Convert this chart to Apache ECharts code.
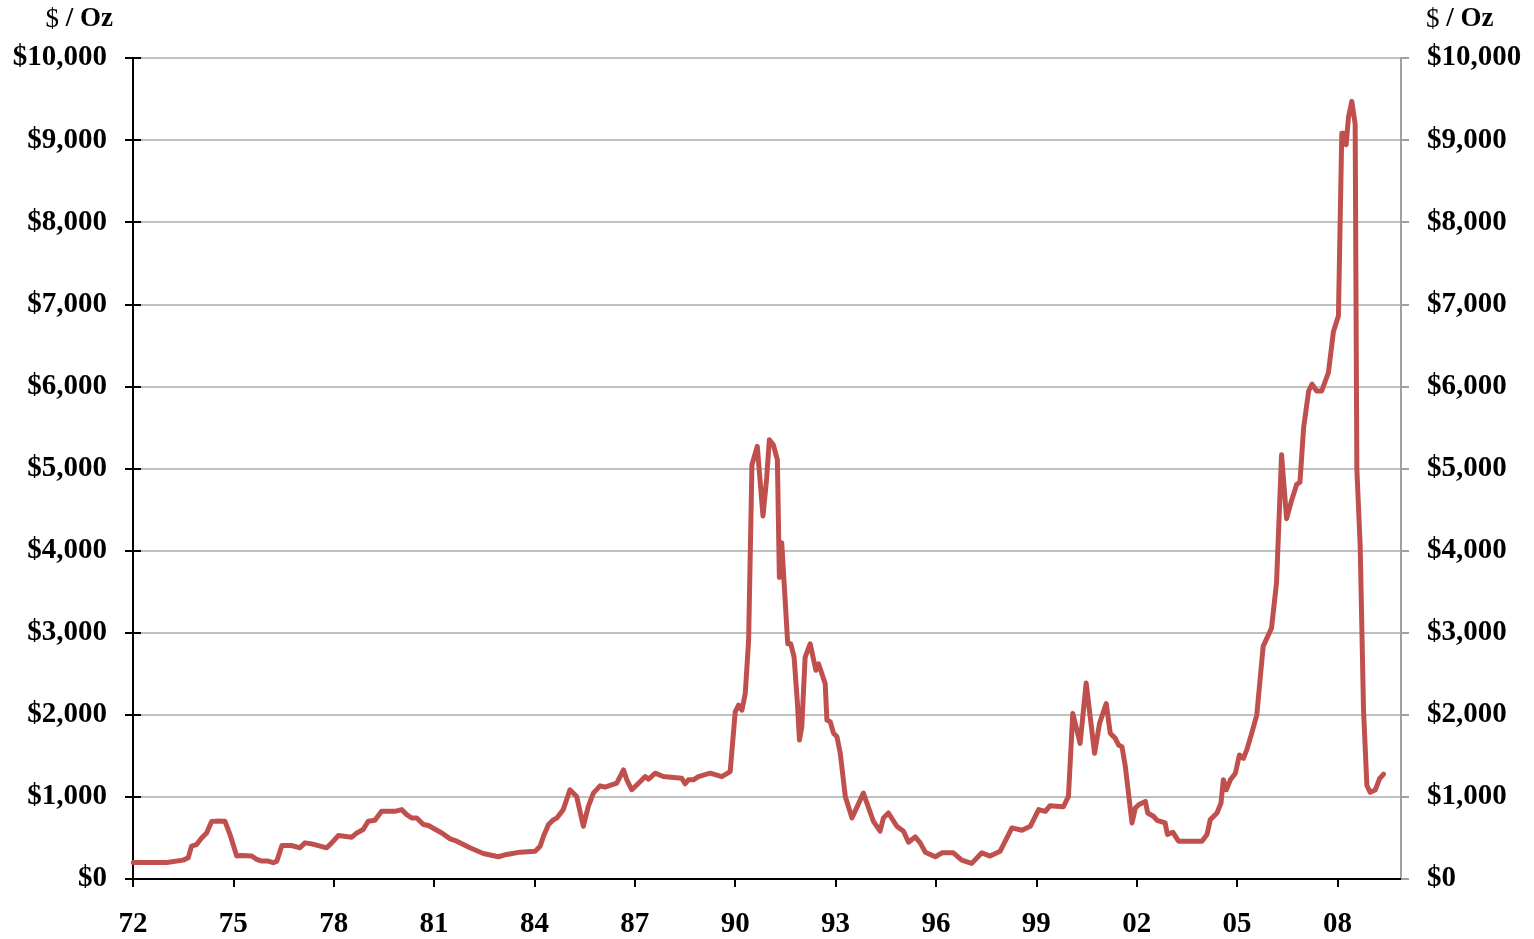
<!DOCTYPE html>
<html lang="en">
<head>
    <meta charset="UTF-8">
    <title>$ / Oz</title>
    <script src="https://cdn.jsdelivr.net/npm/echarts@6/dist/echarts.min.js"></script>
    <style>
        body { margin: 0; background: #fff; }
    </style>
</head>
<body>
    <div style="width: 1534px; height: 939px" id="main"></div>
    <script type="text/javascript">
        // decimal year of each reading
        var years = [
            1972.01, 1973.01, 1973.50, 1973.65, 1973.75, 1973.90, 1974.05, 1974.20, 1974.35, 1974.50,
            1974.75, 1974.90, 1975.10, 1975.25, 1975.55, 1975.70, 1975.85, 1976.04, 1976.19, 1976.30,
            1976.45, 1976.74, 1976.99, 1977.14, 1977.34, 1977.79, 1977.94, 1978.14, 1978.54, 1978.69,
            1978.88, 1979.03, 1979.23, 1979.43, 1979.83, 1980.03, 1980.18, 1980.33, 1980.48, 1980.68,
            1980.83, 1981.23, 1981.48, 1981.68, 1982.07, 1982.47, 1982.92, 1983.17, 1983.57, 1984.02,
            1984.17, 1984.27, 1984.42, 1984.57, 1984.67, 1984.86, 1985.06, 1985.26, 1985.46, 1985.61,
            1985.76, 1985.96, 1986.11, 1986.46, 1986.66, 1986.76, 1986.91, 1987.11, 1987.31, 1987.41,
            1987.61, 1987.85, 1988.40, 1988.50, 1988.60, 1988.75, 1988.90, 1989.25, 1989.60, 1989.85,
            1990.00, 1990.10, 1990.20, 1990.30, 1990.40, 1990.50, 1990.54, 1990.66, 1990.83, 1990.94,
            1991.02, 1991.14, 1991.26, 1991.32, 1991.39, 1991.44, 1991.57, 1991.66, 1991.76, 1991.86,
            1991.92, 1991.99, 1992.09, 1992.24, 1992.41, 1992.49, 1992.69, 1992.74, 1992.84, 1992.94,
            1993.04, 1993.14, 1993.29, 1993.49, 1993.83, 1994.13, 1994.33, 1994.43, 1994.58, 1994.83,
            1995.03, 1995.18, 1995.38, 1995.53, 1995.68, 1995.98, 1996.18, 1996.52, 1996.77, 1997.07,
            1997.37, 1997.62, 1997.92, 1998.27, 1998.57, 1998.82, 1999.07, 1999.27, 1999.41, 1999.81,
            1999.96, 2000.09, 2000.31, 2000.49, 2000.74, 2000.89, 2001.09, 2001.21, 2001.36, 2001.46,
            2001.56, 2001.66, 2001.86, 2001.96, 2002.06, 2002.26, 2002.33, 2002.50, 2002.61, 2002.85,
            2002.92, 2003.08, 2003.25, 2003.95, 2004.10, 2004.20, 2004.40, 2004.52, 2004.59, 2004.68,
            2004.80, 2004.95, 2005.07, 2005.19, 2005.29, 2005.44, 2005.59, 2005.78, 2006.03, 2006.18,
            2006.33, 2006.48, 2006.63, 2006.78, 2006.88, 2006.99, 2007.14, 2007.24, 2007.38, 2007.53,
            2007.73, 2007.88, 2008.03, 2008.13, 2008.20, 2008.26, 2008.33, 2008.43, 2008.53, 2008.58,
            2008.68, 2008.78, 2008.88, 2008.98, 2009.13, 2009.26, 2009.38
        ];
        // $ / Oz
        var prices = [
            200, 200, 230, 258, 400, 420, 500, 561, 700, 705,
            703, 541, 279, 285, 280, 238, 218, 218, 198, 218,
            408, 408, 380, 440, 428, 380, 440, 530, 509, 561,
            602, 703, 715, 824, 824, 845, 784, 743, 743, 663,
            651, 561, 489, 461, 380, 311, 271, 299, 327, 339,
            400, 521, 663, 723, 743, 845, 1087, 1006, 642, 885,
            1046, 1135, 1119, 1167, 1329, 1208, 1087, 1167, 1248, 1216,
            1289, 1248, 1228, 1160, 1208, 1208, 1248, 1289, 1248, 1309,
            2036, 2117, 2056, 2258, 2905, 5046, 5067, 5269, 4421, 4885,
            5350, 5288, 5107, 3673, 4097, 4076, 2865, 2865, 2703, 2137,
            1693, 1855, 2703, 2865, 2542, 2622, 2380, 1936, 1915, 1774,
            1733, 1531, 1006, 743, 1046, 703, 582, 743, 804, 642,
            582, 448, 513, 440, 327, 271, 319, 319, 230, 190,
            319, 279, 339, 622, 594, 642, 845, 824, 893, 880,
            1006, 2016, 1652, 2388, 1531, 1895, 2137, 1774, 1713, 1632,
            1612, 1370, 683, 864, 905, 945, 804, 764, 715, 683,
            541, 570, 461, 461, 541, 723, 804, 925, 1208, 1087,
            1208, 1289, 1511, 1470, 1572, 1778, 2000, 2833, 3056, 3611,
            5167, 4389, 4611, 4806, 4833, 5500, 5944, 6028, 5944, 5944,
            6167, 6667, 6861, 9083, 9083, 8944, 9278, 9472, 9194, 5000,
            4056, 2056, 1139, 1056, 1083, 1222, 1278
        ];
        var xTicks = [1972, 1975, 1978, 1981, 1984, 1987, 1990, 1993, 1996, 1999, 2002, 2005, 2008];

        var font = '"Liberation Serif", "Times New Roman", serif';
        var seriesData = years.map(function (y, i) { return [y, prices[i]]; });

        var money = function (v) {
            return '$' + v.toLocaleString('en-US');
        };

        var unitText = {
            type: 'text',
            style: {
                text: '{r|$}{b| / Oz}',
                rich: {
                    r: { fontFamily: font, fontSize: 27, fontWeight: 'normal', fill: '#000' },
                    b: { fontFamily: font, fontSize: 27, fontWeight: 'bold', fill: '#000' }
                },
                verticalAlign: 'middle'
            }
        };

        var myChart = echarts.init(document.getElementById('main'));
        var option = {
            animation: false,
            backgroundColor: '#fff',
            grid: { left: 133, right: 133, top: 58, bottom: 56 },
            graphic: [
                Object.assign({}, unitText, { right: 1534 - 113, top: 6 }),
                Object.assign({}, unitText, { left: 1426, top: 6 })
            ],
            xAxis: {
                type: 'value',
                min: 1972,
                max: 2009.9,
                interval: 3,
                axisLine: { show: true, lineStyle: { color: '#000', width: 2 } },
                axisTick: { show: true, length: 8, customValues: xTicks, lineStyle: { color: '#000', width: 2 } },
                axisLabel: {
                    customValues: xTicks,
                    margin: 31,
                    fontFamily: font,
                    fontSize: 29,
                    fontWeight: 'bold',
                    color: '#000',
                    formatter: function (v) { return String(Math.round(v)).slice(2); }
                },
                splitLine: { show: false }
            },
            yAxis: [
                {
                    type: 'value',
                    position: 'left',
                    min: 0,
                    max: 10000,
                    interval: 1000,
                    axisLine: { show: true, lineStyle: { color: '#000', width: 2 } },
                    axisTick: { show: true, length: 8, lineStyle: { color: '#000', width: 2 } },
                    axisLabel: {
                        margin: 26,
                        fontFamily: font,
                        fontSize: 29,
                        fontWeight: 'bold',
                        color: '#000',
                        formatter: money
                    },
                    splitLine: { show: true, lineStyle: { color: '#c0c0c0', width: 2 } }
                },
                {
                    type: 'value',
                    position: 'right',
                    min: 0,
                    max: 10000,
                    interval: 1000,
                    axisLine: { show: true, lineStyle: { color: '#a0a0a0', width: 2 } },
                    axisTick: { show: true, length: 8, lineStyle: { color: '#a0a0a0', width: 2 } },
                    axisLabel: {
                        margin: 26,
                        fontFamily: font,
                        fontSize: 29,
                        fontWeight: 'bold',
                        color: '#000',
                        formatter: money
                    },
                    splitLine: { show: false }
                },
                {
                    // inner half of the left ticks
                    type: 'value',
                    position: 'left',
                    min: 0,
                    max: 10000,
                    interval: 1000,
                    axisLine: { show: false },
                    axisTick: { show: true, inside: true, length: 8, lineStyle: { color: '#000', width: 2 } },
                    axisLabel: { show: false },
                    splitLine: { show: false }
                }
            ],
            series: [{
                name: 'Price',
                type: 'line',
                data: seriesData,
                showSymbol: false,
                symbol: 'none',
                lineStyle: { color: '#c0504d', width: 5, join: 'round', cap: 'round' },
                z: 3
            }]
        };
        myChart.setOption(option);
    </script>
</body>
</html>
